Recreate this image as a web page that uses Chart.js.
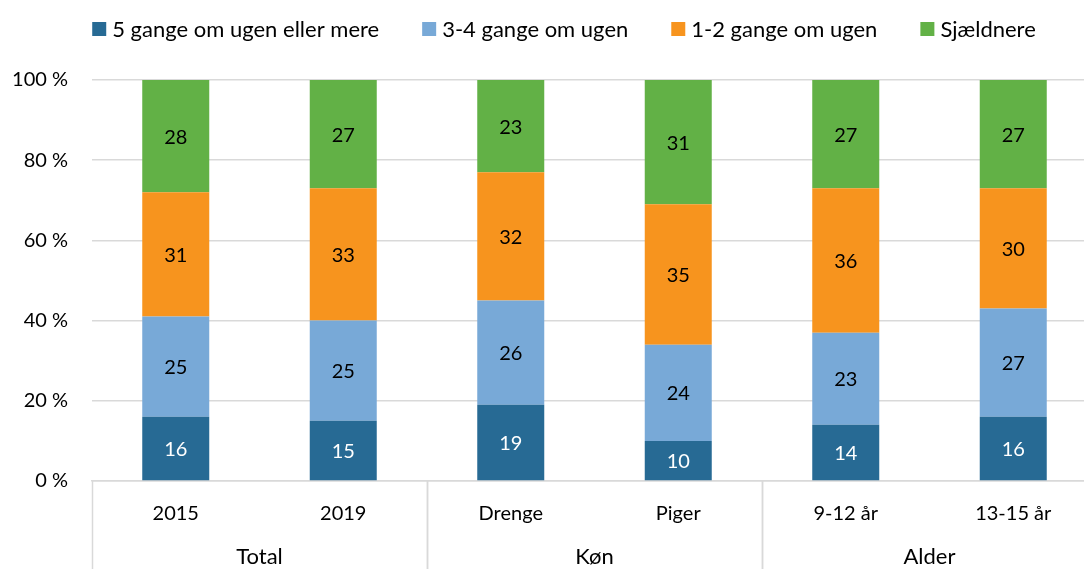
<!DOCTYPE html>
<html>
<head>
<meta charset="utf-8">
<script src="https://cdn.jsdelivr.net/npm/chart.js@4/dist/chart.umd.min.js"></script>
<style>
  html, body { margin: 0; padding: 0; background: #fff; overflow: hidden; }
  #wrap { width: 1110px; height: 569px; }
</style>
</head>
<body>
<div id="wrap"><canvas id="chart" width="1110" height="569"></canvas></div>
<script>
const categories = ['2015', '2019', 'Drenge', 'Piger', '9-12 år', '13-15 år'];
const groups = [
  { label: 'Total', from: 0, to: 1 },
  { label: 'Køn', from: 2, to: 3 },
  { label: 'Alder', from: 4, to: 5 }
];
const seriesNames = ['5 gange om ugen eller mere', '3-4 gange om ugen', '1-2 gange om ugen', 'Sjældnere'];
const fiveOrMore = [16, 15, 19, 10, 14, 16];
const threeFour = [25, 25, 26, 24, 23, 27];
const oneTwo = [31, 33, 32, 35, 36, 30];
const rarely = [28, 27, 23, 31, 27, 27];
const yTicks = [0, 20, 40, 60, 80, 100];

const colors = ['#276A94', '#78A9D7', '#F7941E', '#62B146'];
const FONT = 'Lato, "Open Sans", sans-serif';
const GRID = '#d9d9d9';

// Data labels in the middle of each segment
const segmentLabels = {
  id: 'segmentLabels',
  afterDatasetsDraw(chart) {
    const ctx = chart.ctx;
    ctx.save();
    ctx.font = '20px ' + FONT;
    ctx.textAlign = 'center';
    ctx.textBaseline = 'middle';
    chart.data.datasets.forEach((ds, i) => {
      const meta = chart.getDatasetMeta(i);
      meta.data.forEach((bar, j) => {
        const p = bar.getProps(['x', 'y', 'base'], true);
        ctx.fillStyle = i === 0 ? '#fff' : '#000';
        ctx.fillText(ds.data[j], p.x, (p.y + p.base) / 2 + 1);
      });
    });
    ctx.restore();
  }
};

// Group labels and separators under the x axis
const groupAxis = {
  id: 'groupAxis',
  afterDraw(chart) {
    const ctx = chart.ctx;
    const x = chart.scales.x;
    const half = (x.getPixelForValue(1) - x.getPixelForValue(0)) / 2;
    const top = chart.chartArea.bottom;
    ctx.save();
    ctx.strokeStyle = GRID;
    ctx.lineWidth = 1.5;
    groups.forEach(g => {
      const l = x.getPixelForValue(g.from) - half;
      const r = x.getPixelForValue(g.to) + half;
      [l, r].forEach(px => {
        ctx.beginPath();
        ctx.moveTo(Math.round(px) + 0.5, top);
        ctx.lineTo(Math.round(px) + 0.5, chart.height);
        ctx.stroke();
      });
      ctx.fillStyle = '#000';
      ctx.font = '22px ' + FONT;
      ctx.textAlign = 'center';
      ctx.textBaseline = 'middle';
      ctx.fillText(g.label, (l + r) / 2, 557);
    });
    ctx.restore();
  }
};

// Legend row at the top
const topLegend = {
  id: 'topLegend',
  afterDraw(chart) {
    const ctx = chart.ctx;
    ctx.save();
    ctx.font = '22px ' + FONT;
    ctx.textBaseline = 'middle';
    const box = 14, gapText = 6, gapItem = 43;
    const widths = chart.data.datasets.map(ds => ctx.measureText(ds.label).width);
    const total = widths.reduce((a, w) => a + box + gapText + w, 0) + gapItem * (widths.length - 1);
    let cx = 564 - total / 2;
    const cy = 29;
    chart.data.datasets.forEach((ds, i) => {
      ctx.fillStyle = ds.backgroundColor;
      ctx.fillRect(cx, cy - box / 2, box, box);
      ctx.fillStyle = '#000';
      ctx.fillText(ds.label, cx + box + gapText, cy + 1);
      cx += box + gapText + widths[i] + gapItem;
    });
    ctx.restore();
  }
};

const seriesData = [fiveOrMore, threeFour, oneTwo, rarely];

new Chart(document.getElementById('chart'), {
  type: 'bar',
  data: {
    labels: categories,
    datasets: seriesNames.map((name, i) => ({
      label: name,
      data: seriesData[i],
      backgroundColor: colors[i],
      borderWidth: 0,
      categoryPercentage: 1,
      barPercentage: 0.4
    }))
  },
  options: {
    responsive: false,
    animation: false,
    devicePixelRatio: 1,
    layout: { padding: { top: 80, right: 13, left: 0, bottom: 0 } },
    plugins: {
      legend: { display: false },
      tooltip: { enabled: false }
    },
    scales: {
      x: {
        stacked: true,
        grid: { display: false },
        border: { display: true, color: GRID, width: 1.5 },
        ticks: { color: '#000', font: { family: FONT, size: 20 }, padding: 13, maxRotation: 0 },
        afterFit(scale) { scale.height = 88; }
      },
      y: {
        stacked: true,
        min: 0,
        max: 100,
        afterBuildTicks(scale) { scale.ticks = yTicks.map(v => ({ value: v })); },
        grid: { color: GRID, lineWidth: 1.5, drawTicks: false },
        border: { display: false },
        ticks: {
          color: '#000',
          font: { family: FONT, size: 20 },
          padding: 24,
          callback: v => v + ' %'
        },
        afterFit(scale) { scale.width = 92; }
      }
    }
  },
  plugins: [segmentLabels, groupAxis, topLegend]
});
</script>
</body>
</html>
